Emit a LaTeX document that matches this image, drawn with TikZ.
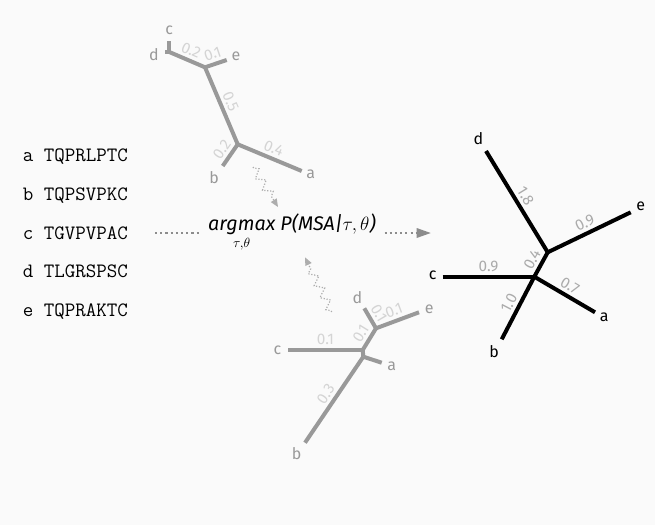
\documentclass[tikz,border=0pt]{standalone}
\usepackage{amsmath}
\usepackage{fontspec}
\setmainfont{Fira Sans}
\usetikzlibrary{decorations.pathmorphing,arrows.meta,calc}
\definecolor{bgc}{HTML}{FAFAFA}
\definecolor{treegray}{HTML}{999999}
\definecolor{brlight}{HTML}{D4D4D4}
\definecolor{brmid}{HTML}{ABABAB}
\definecolor{arrowgray}{HTML}{8C8C8C}
\definecolor{wavegray}{HTML}{ADADAD}
\begin{document}
\begin{tikzpicture}[x=0.75pt,y=-0.75pt,
  gtree/.style={line width=3pt, draw=treegray},
  btree/.style={line width=3pt, draw=black},
  gleaf/.style={text=treegray, font=\fontsize{12}{14}\selectfont, inner sep=0pt},
  bleaf/.style={text=black, font=\fontsize{12}{14}\selectfont, inner sep=0pt},
  glen/.style={midway, sloped, above, text=brlight, font=\fontsize{11.5}{13}\selectfont, inner sep=2.2pt},
  blen/.style={midway, sloped, above, text=brmid, font=\fontsize{11.5}{13}\selectfont, inner sep=2.2pt},
  seqtext/.style={anchor=base west, inner sep=0pt, font=\fontsize{15.3}{18}\ttfamily},
  dotline/.style={draw=arrowgray, line width=1.6pt, dash pattern=on 1.6pt off 2.3pt},
  wave/.style={draw=wavegray, line width=0.9pt, dash pattern=on 0.9pt off 1.3pt,
    decorate, decoration={zigzag, amplitude=3.2pt, segment length=10pt, pre length=1pt, post length=5pt}},
  wavetip/.style={-{Triangle[length=6pt,width=5pt]}}
]
\useasboundingbox[fill=bgc] (0,0) rectangle (655,525);

% sequences
\node[seqtext] (sa) at (22.5,161.7) {a TQPRLPTC};
\node[seqtext] (sb) at (22.5,200.4) {b TQPSVPKC};
\node[seqtext] (sc) at (22.5,239.2) {c TGVPVPAC};
\node[seqtext] (sd) at (22.5,277.9) {d TLGRSPSC};
\node[seqtext] (se) at (22.5,316.7) {e TQPRAKTC};

% objective
\node (opt) at (292,233) {\fontsize{14.8}{17}\selectfont $\underset{\tau,\theta}{\textit{argmax}}\ \textit{P(MSA|}\tau, \theta\textit{)}$};
\coordinate (src) at (155,233);
\coordinate (dst) at (430.7,233);
\draw[dotline] (src) -- ([xshift=-2pt]opt.west);
\draw[dotline] ([xshift=3pt]opt.east) -- ($(dst)+(-12,0)$);
\fill[arrowgray] (dst) -- ++(-14,-5) -- ++(0,10) -- cycle;

% top tree
\coordinate (tc) at (169.3,41);
\coordinate (td) at (165,52);
\coordinate (X1) at (169.3,52);
\coordinate (X2) at (205,67.3);
\coordinate (te) at (226.7,60);
\coordinate (X3) at (237.7,144.3);
\coordinate (tb) at (222.7,166);
\coordinate (ta) at (301.7,171);
\draw[gtree] (X1) -- (tc);
\draw[gtree] (X1) -- (td);
\draw[gtree] (X1) -- node[glen] {0.2} (X2);
\draw[gtree] (X2) -- node[glen] {0.1} (te);
\draw[gtree] (X2) -- node[glen] {0.5} (X3);
\draw[gtree] (X3) -- node[glen] {0.2} (tb);
\draw[gtree] (X3) -- node[glen] {0.4} (ta);
\node[gleaf] (ltc) at (169.3,30) {c};
\node[gleaf] (ltd) at (154,54.5) {d};
\node[gleaf] (lte) at (236,56.2) {e};
\node[gleaf] (ltb) at (214,177.5) {b};
\node[gleaf] (lta) at (310.7,174.5) {a};

% bottom tree
\coordinate (bc) at (288.3,350);
\coordinate (Y1) at (362.7,350);
\coordinate (Y2) at (376,328.3);
\coordinate (bd) at (364.3,308.3);
\coordinate (be) at (419,312.3);
\coordinate (Y0) at (363.3,356.7);
\coordinate (ba) at (381.7,362.7);
\coordinate (bb) at (305,442.7);
\draw[gtree] (bc) -- node[glen] {0.1} (Y1);
\draw[gtree] (Y1) -- node[glen] {0.1} (Y2);
\draw[gtree] (Y2) -- node[glen] {0.1} (bd);
\draw[gtree] (Y2) -- node[glen] {0.1} (be);
\draw[gtree] (Y1) -- (Y0);
\draw[gtree] (Y0) -- (ba);
\draw[gtree] (Y0) -- node[glen] {0.3} (bb);
\node[gleaf] (lbc) at (277.5,350) {c};
\node[gleaf] (lbd) at (357.3,298) {d};
\node[gleaf] (lbe) at (429.3,309) {e};
\node[gleaf] (lba) at (391.7,366) {a};
\node[gleaf] (lbb) at (296.7,454) {b};

% right tree
\coordinate (rd) at (486,151);
\coordinate (Z2) at (547.7,252.3);
\coordinate (re) at (630.7,212.3);
\coordinate (Z1) at (534.3,276.7);
\coordinate (rc) at (442.7,276.7);
\coordinate (ra) at (595,312.3);
\coordinate (rb) at (501.7,339.3);
\draw[btree] (Z2) -- node[blen] {1.8} (rd);
\draw[btree] (Z2) -- node[blen] {0.9} (re);
\draw[btree] (Z1) -- node[blen] {0.4} (Z2);
\draw[btree] (rc) -- node[blen] {0.9} (Z1);
\draw[btree] (Z1) -- node[blen] {0.7} (ra);
\draw[btree] (Z1) -- node[blen] {1.0} (rb);
\node[bleaf] (lrd) at (478.3,139) {d};
\node[bleaf] (lre) at (640.7,206.7) {e};
\node[bleaf] (lrc) at (432.7,275.7) {c};
\node[bleaf] (lra) at (604.3,317.3) {a};
\node[bleaf] (lrb) at (494,351.7) {b};

% wavy arrows
\coordinate (w1s) at (253,167);
\coordinate (w1e) at (278,207);
\coordinate (w2s) at (331.7,312);
\coordinate (w2e) at (305,257.3);
\draw[wave, wavetip] (w1s) -- (w1e);
\draw[wave, wavetip] (w2s) -- (w2e);
\end{tikzpicture}
\end{document}
